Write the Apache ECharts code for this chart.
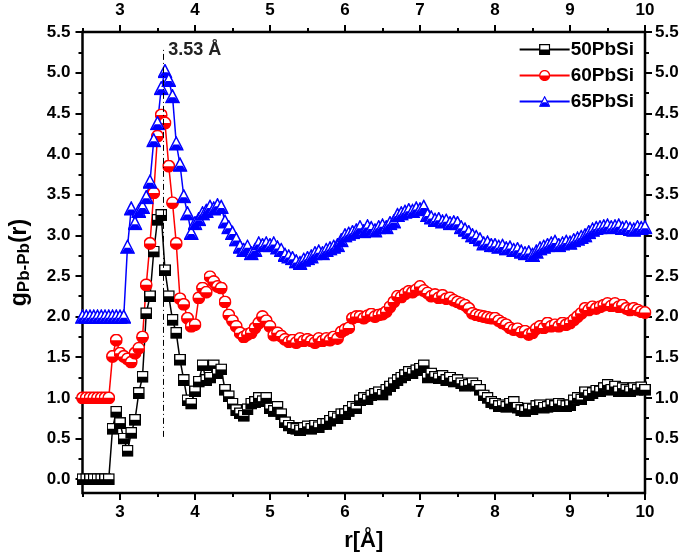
<!DOCTYPE html>
<html>
<head>
<meta charset="utf-8">
<script src="https://cdn.jsdelivr.net/npm/echarts@6/dist/echarts.min.js"></script>
<style>html,body{margin:0;padding:0;background:#fff}#c{width:685px;height:557px}</style>
</head>
<body>
<div id="c"></div>
<script>
// r values (Å), step 0.05 from 2.50 to 10.00
const r = [
 2.50,2.55,2.60,2.65,2.70,2.75,2.80,2.85,2.90,2.95,
 3.00,3.05,3.10,3.15,3.20,3.25,3.30,3.35,3.40,3.45,
 3.50,3.55,3.60,3.65,3.70,3.75,3.80,3.85,3.90,3.95,
 4.00,4.05,4.10,4.15,4.20,4.25,4.30,4.35,4.40,4.45,
 4.50,4.55,4.60,4.65,4.70,4.75,4.80,4.85,4.90,4.95,
 5.00,5.05,5.10,5.15,5.20,5.25,5.30,5.35,5.40,5.45,
 5.50,5.55,5.60,5.65,5.70,5.75,5.80,5.85,5.90,5.95,
 6.00,6.05,6.10,6.15,6.20,6.25,6.30,6.35,6.40,6.45,
 6.50,6.55,6.60,6.65,6.70,6.75,6.80,6.85,6.90,6.95,
 7.00,7.05,7.10,7.15,7.20,7.25,7.30,7.35,7.40,7.45,
 7.50,7.55,7.60,7.65,7.70,7.75,7.80,7.85,7.90,7.95,
 8.00,8.05,8.10,8.15,8.20,8.25,8.30,8.35,8.40,8.45,
 8.50,8.55,8.60,8.65,8.70,8.75,8.80,8.85,8.90,8.95,
 9.00,9.05,9.10,9.15,9.20,9.25,9.30,9.35,9.40,9.45,
 9.50,9.55,9.60,9.65,9.70,9.75,9.80,9.85,9.90,9.95,
 10.00
];
const g50 = [
 0,0,0,0,0,0,0,0,0.62,0.83,
 0.69,0.50,0.35,0.57,0.73,1.06,1.26,2.04,2.25,2.80,
 3.19,3.25,2.57,2.25,1.96,1.80,1.47,1.22,0.97,0.93,
 1.08,1.20,1.40,1.22,1.25,1.40,1.30,1.35,1.10,1.02,
 0.93,0.85,0.81,0.78,0.86,0.93,0.95,1.00,0.96,1.00,
 0.87,0.84,0.89,0.80,0.70,0.66,0.63,0.62,0.60,0.63,
 0.65,0.62,0.66,0.64,0.68,0.68,0.72,0.77,0.75,0.80,
 0.80,0.84,0.89,0.87,0.97,1.00,0.98,1.03,1.05,1.07,
 1.04,1.10,1.14,1.18,1.22,1.25,1.28,1.32,1.30,1.34,
 1.36,1.40,1.25,1.30,1.26,1.24,1.27,1.22,1.25,1.20,
 1.22,1.18,1.15,1.16,1.18,1.15,1.10,1.03,1.00,0.95,
 0.93,0.90,0.91,0.89,0.93,0.95,0.88,0.85,0.84,0.87,
 0.86,0.90,0.91,0.88,0.89,0.92,0.90,0.93,0.91,0.90,
 0.91,0.97,1.00,0.98,1.07,1.03,1.06,1.09,1.08,1.12,
 1.16,1.10,1.14,1.08,1.12,1.10,1.08,1.12,1.10,1.13,
 1.10
];
const g60 = [
 1.00,1.00,1.00,1.00,1.00,1.00,1.00,1.00,1.51,1.71,
 1.55,1.51,1.48,1.44,1.55,1.61,1.75,2.39,2.90,3.52,
 4.22,4.48,4.38,3.85,3.40,2.90,2.22,2.15,1.98,1.88,
 1.90,2.23,2.35,2.30,2.49,2.43,2.37,2.35,2.18,2.02,
 1.95,1.88,1.80,1.75,1.78,1.80,1.86,1.92,2.00,1.95,
 1.88,1.77,1.80,1.76,1.72,1.69,1.71,1.68,1.73,1.70,
 1.72,1.70,1.68,1.73,1.70,1.73,1.71,1.75,1.73,1.81,
 1.84,1.86,1.98,2.00,2.00,1.98,2.01,2.03,2.00,2.02,
 2.03,2.06,2.12,2.18,2.25,2.24,2.28,2.31,2.30,2.33,
 2.37,2.32,2.29,2.25,2.27,2.23,2.26,2.22,2.23,2.20,
 2.18,2.16,2.14,2.10,2.04,2.02,2.01,2.00,1.99,1.98,
 1.98,1.95,1.92,1.90,1.86,1.84,1.85,1.81,1.82,1.78,
 1.80,1.85,1.88,1.86,1.92,1.88,1.90,1.88,1.92,1.90,
 1.92,1.96,2.00,2.04,2.10,2.08,2.12,2.10,2.12,2.14,
 2.16,2.13,2.16,2.12,2.14,2.10,2.08,2.10,2.08,2.06,
 2.05
];
const g65 = [
 2.00,2.00,2.00,2.00,2.00,2.00,2.00,2.00,2.00,2.00,
 2.00,2.00,2.86,3.33,3.15,3.30,3.35,3.47,3.66,4.17,
 4.38,4.81,5.02,4.91,4.71,4.13,3.87,3.48,3.27,3.03,
 3.15,3.20,3.27,3.30,3.35,3.33,3.37,3.35,3.17,3.10,
 3.03,2.95,2.86,2.82,2.86,2.78,2.82,2.90,2.88,2.90,
 2.88,2.90,2.85,2.82,2.76,2.74,2.72,2.68,2.66,2.70,
 2.72,2.74,2.78,2.80,2.78,2.82,2.84,2.86,2.88,2.94,
 3.00,3.02,3.04,3.06,3.10,3.05,3.11,3.09,3.06,3.10,
 3.12,3.10,3.15,3.17,3.25,3.27,3.29,3.31,3.30,3.33,
 3.32,3.35,3.25,3.22,3.19,3.20,3.17,3.18,3.15,3.16,
 3.15,3.10,3.07,3.04,3.00,2.98,2.95,2.90,2.91,2.88,
 2.88,2.86,2.87,2.84,2.85,2.82,2.83,2.80,2.78,2.79,
 2.76,2.80,2.84,2.86,2.88,2.90,2.92,2.88,2.90,2.92,
 2.91,2.94,2.96,2.98,3.00,3.04,3.07,3.09,3.10,3.11,
 3.12,3.10,3.11,3.12,3.09,3.10,3.08,3.07,3.10,3.09,
 3.10
];
const seriesNames = ['50PbSi', '60PbSi', '65PbSi'];
const xMajor = [3, 4, 5, 6, 7, 8, 9, 10];
const xMinor = [2.5, 3.5, 4.5, 5.5, 6.5, 7.5, 8.5, 9.5];
const yMajor = [0, 0.5, 1, 1.5, 2, 2.5, 3, 3.5, 4, 4.5, 5, 5.5];
const yMinor = [0.25, 0.75, 1.25, 1.75, 2.25, 2.75, 3.25, 3.75, 4.25, 4.75, 5.25];
const peakLine = [3.57, 0.52, 5.28]; // x, y from, y to
const peakText = '3.53 Å';

function svgSym(svg) {
  return 'image://data:image/svg+xml;charset=utf-8,' + encodeURIComponent(svg);
}
const symSquare = svgSym("<svg xmlns='http://www.w3.org/2000/svg' width='20' height='20' viewBox='0 0 20 20'><rect x='1.2' y='1.2' width='17.6' height='17.6' fill='white' stroke='black' stroke-width='2.4'/><rect x='1' y='10' width='18' height='9' fill='black'/></svg>");
const symCircle = svgSym("<svg xmlns='http://www.w3.org/2000/svg' width='20' height='20' viewBox='0 0 20 20'><circle cx='10' cy='10' r='8.8' fill='white' stroke='red' stroke-width='2.4'/><path d='M1.2 10 A8.8 8.8 0 0 0 18.8 10 Z' fill='red'/></svg>");
const symTri = svgSym("<svg xmlns='http://www.w3.org/2000/svg' width='20' height='20' viewBox='0 0 20 20'><path d='M10 1.5 L18.8 18.5 L1.2 18.5 Z' fill='white' stroke='blue' stroke-width='2' stroke-linejoin='miter'/><path d='M6.4 11.5 L13.6 11.5 L18.8 18.8 L1.2 18.8 Z' fill='blue'/></svg>");

const FONT = 'Liberation Sans';
const chart = echarts.init(document.getElementById('c'));

function xAx(pos, major) {
  return {
    type: 'value', position: pos, min: 2.5, max: 10,
    axisLine: { show: false, onZero: false },
    axisTick: { show: true, inside: false, length: major ? 7 : 4, customValues: major ? xMajor : xMinor, lineStyle: { color: '#000', width: 2 } },
    axisLabel: { show: major, customValues: xMajor, color: '#000', fontFamily: FONT, fontWeight: 'bold', fontSize: 17, margin: pos === 'top' ? 13 : 11 },
    splitLine: { show: false }
  };
}
function yAx(pos, major) {
  return {
    type: 'value', position: pos, min: -0.17, max: 5.5,
    axisLine: { show: false, onZero: false },
    axisTick: { show: true, inside: false, length: major ? 7 : 4, customValues: major ? yMajor : yMinor, lineStyle: { color: '#000', width: 2 } },
    axisLabel: { show: major, customValues: yMajor, color: '#000', fontFamily: FONT, fontWeight: 'bold', fontSize: 17, margin: pos === 'left' ? 12 : 10, formatter: v => v.toFixed(1) },
    splitLine: { show: false }
  };
}

const xs = [xAx('bottom', true), xAx('bottom', false), xAx('top', true), xAx('top', false)];
xs[0].name = 'r[Å]';
xs[0].nameLocation = 'middle';
xs[0].nameGap = 37;
xs[0].nameTextStyle = { color: '#000', fontFamily: FONT, fontWeight: 'bold', fontSize: 22 };
const ys = [yAx('left', true), yAx('left', false), yAx('right', true), yAx('right', false)];
ys[0].name = '{g|g}{s|Pb-Pb}{g|(r)}';
ys[0].nameLocation = 'middle';
ys[0].nameGap = 50;
ys[0].nameTextStyle = {
  rich: {
    g: { color: '#000', fontFamily: FONT, fontWeight: 'bold', fontSize: 23 },
    s: { color: '#000', fontFamily: FONT, fontWeight: 'bold', fontSize: 17, padding: [9, 0, 0, 0] }
  }
};

function mk(name, ys_, sym, color, size) {
  return {
    name: name, type: 'line', xAxisIndex: 0, yAxisIndex: 0,
    data: r.map((x, i) => [x, ys_[i]]),
    symbol: sym, symbolSize: size, showAllSymbol: true,
    lineStyle: { color: color, width: 1.5 }, itemStyle: { color: color },
    animation: false, z: 3
  };
}

const s50 = mk(seriesNames[0], g50, symSquare, '#000', 12);
const s60 = mk(seriesNames[1], g60, symCircle, '#ff0000', 13);
const s65 = mk(seriesNames[2], g65, symTri, '#0000ff', 15);
s50.markLine = {
  silent: true, symbol: 'none', animation: false,
  lineStyle: { color: '#000', width: 1, type: [6, 3, 1, 3] },
  label: { show: false },
  data: [[{ coord: [peakLine[0], peakLine[1]] }, { coord: [peakLine[0], peakLine[2]] }]]
};
s50.markPoint = {
  silent: true, animation: false,
  data: [{ coord: [peakLine[0], peakLine[2]], symbol: 'rect', symbolSize: 1, itemStyle: { color: 'rgba(0,0,0,0)' },
    label: { show: true, position: 'right', distance: 5, formatter: peakText, color: '#222', fontFamily: FONT, fontWeight: 'bold', fontSize: 18 } }]
};

chart.setOption({
  animation: false,
  backgroundColor: '#fff',
  grid: { left: 79, right: 40, top: 32, bottom: 64, containLabel: false, show: true, borderColor: '#000', borderWidth: 2.5, backgroundColor: 'transparent' },
  xAxis: xs,
  yAxis: ys,
  legend: {
    orient: 'vertical', right: 46, top: 35, itemWidth: 50, itemHeight: 14, itemGap: 7,
    textStyle: { color: '#000', fontFamily: FONT, fontWeight: 'bold', fontSize: 19, padding: [0, 0, 0, -4] },
    data: seriesNames
  },
  series: [s50, s60, s65]
});
</script>
</body>
</html>
